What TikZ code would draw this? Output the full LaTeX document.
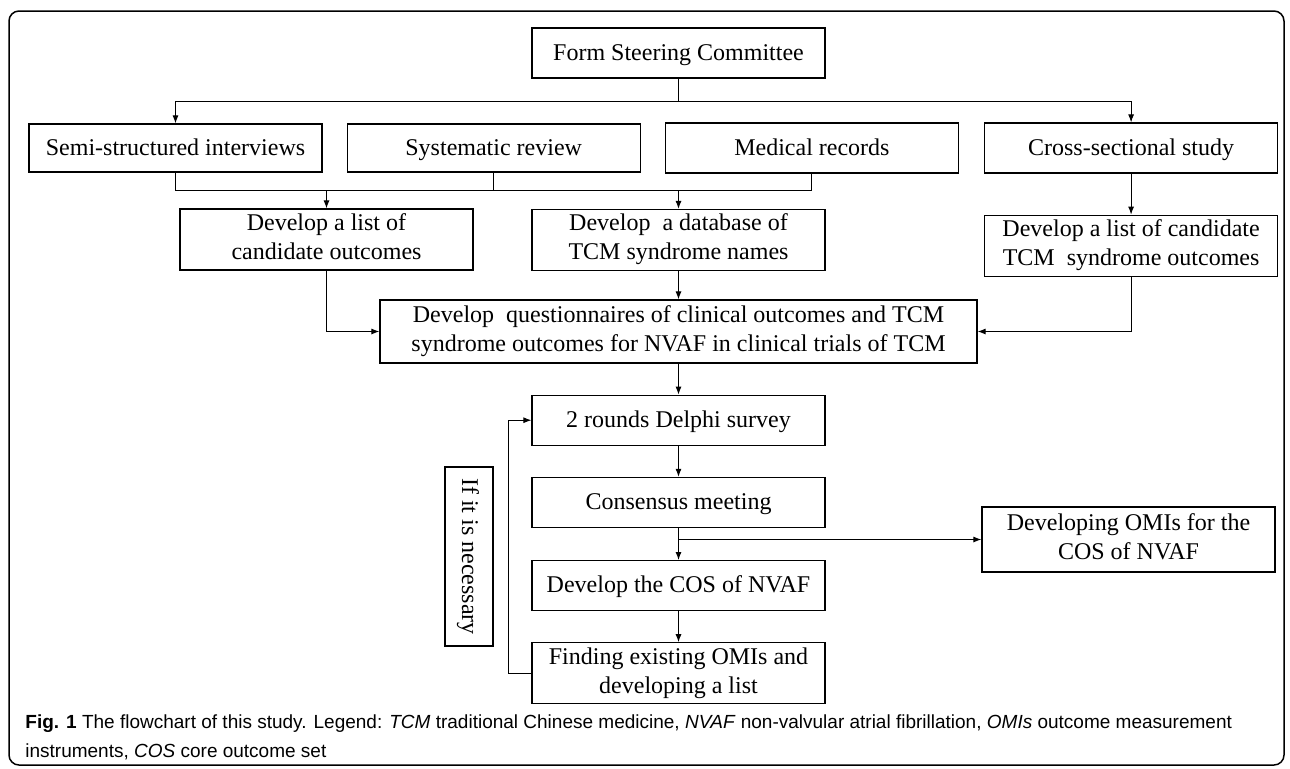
\documentclass[tikz,border=0pt]{standalone}
\usepackage{fontspec}
\setmainfont{Liberation Serif}
\newfontfamily\capfont{Liberation Sans}
\usetikzlibrary{arrows.meta,positioning}
\newcommand{\ls}{\rule[-3pt]{0pt}{13pt}}
\tikzset{
  box/.style={draw,rectangle,line width=0.6pt,minimum width=146.5pt,minimum height=25pt,align=center,inner sep=1pt,
    font=\fontsize{12}{14.5}\selectfont,execute at begin node=\ls,execute at end node=\ls},
  tall/.style={box,minimum height=30.5pt},
  link/.style={line width=0.5pt},
  signal/.style={-{Latex[length=4pt,width=3pt]},line width=0.5pt}
}

\begin{document}
\begin{tikzpicture}[x=0.5pt,y=-0.5pt,node distance=15.5pt and 12pt]

\useasboundingbox (0,0) rectangle (1290,768);
\draw[line width=0.75pt,rounded corners=5pt] (9,11) rectangle (1284,765);

\node[box] (steer) at (678.5,53) {Form Steering Committee};

\node[box,minimum height=24pt] (interv) at (175.5,148) {Semi-structured interviews};
\node[box,minimum height=24pt,right=of interv] (review) {Systematic review};
\node[box,right=of review] (records) {Medical records};
\node[box,right=12.5pt of records] (cross) {Cross-sectional study};

\node[tall] (candlist) at (326.5,239.5) {Develop a list of\\candidate outcomes};
\node[tall] (synddb) at (678.5,240) {Develop~ a database of\\TCM syndrome names};
\node[tall,below=20.5pt of cross] (syndlist) {Develop a list of candidate\\TCM~ syndrome outcomes};

\node[box,minimum width=298.5pt,minimum height=31.5pt] (quest) at (678.5,331.5)
  {Develop~ questionnaires of clinical outcomes and TCM\\syndrome outcomes for NVAF in clinical trials of TCM};

\node[box,below=of quest] (delphi) {2 rounds Delphi survey};
\node[box,below=of delphi] (meeting) {Consensus meeting};
\node[box,below=16pt of meeting] (cos) {Develop the COS of NVAF};
\node[tall,below=of cos] (omis) {Finding existing OMIs and\\developing a list};

\node[box,minimum height=32.5pt] (omidev) at (1128.5,539.5) {Developing OMIs for the\\COS of NVAF};

\node[box,rotate=-90,minimum width=89.5pt,minimum height=24pt] (ifnec) at (469,556.5) {If it is necessary};

\coordinate (split) at (678.5,101);
\coordinate (merge) at (678.5,190);

\draw[link] (steer) -- (split);
\draw[signal] (split) -| (interv);
\draw[signal] (split) -| (cross);

\draw[link] (interv) |- (merge);
\draw[link] (review) -- (review.south |- merge);
\draw[link] (records) |- (merge);
\draw[signal] (candlist.north |- merge) -- (candlist);
\draw[signal] (merge) -- (synddb);
\draw[signal] (cross) -- (syndlist);

\draw[signal] (candlist) |- (quest);
\draw[signal] (synddb) -- (quest);
\draw[signal] (syndlist) |- (quest);

\draw[signal] (quest) -- (delphi);
\draw[signal] (delphi) -- (meeting);
\draw[signal] (meeting) -- (cos);
\draw[signal] (meeting.south |- omidev.west) -- (omidev);
\draw[signal] (cos) -- (omis);
\draw[signal] (omis.west) -- ++(-23,0) |- (delphi.west);

\node[anchor=north west,align=left,inner sep=0pt,font=\capfont\fontsize{9.5}{14.5}\selectfont] (caption) at (25,714)
  {\textbf{Fig. 1} The flowchart of this study. Legend: \textit{TCM} traditional Chinese medicine, \textit{NVAF} non-valvular atrial fibrillation, \textit{OMIs} outcome measurement\\
   instruments, \textit{COS} core outcome set};

\end{tikzpicture}
\end{document}
